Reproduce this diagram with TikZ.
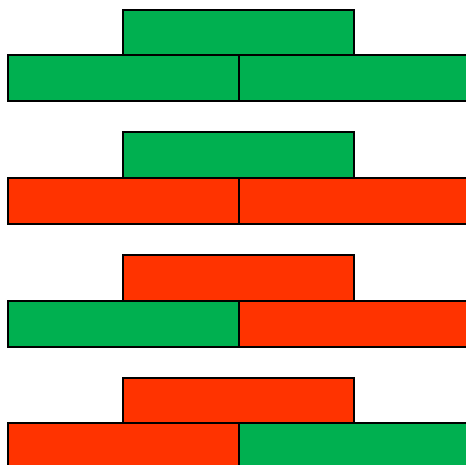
\documentclass[tikz,border=0pt]{standalone}
\definecolor{grn}{HTML}{00B050}
\definecolor{rd}{HTML}{FF3300}
\begin{document}
\begin{tikzpicture}[x=1pt,y=-1pt,
  brick/.style={draw=black,line width=2pt}]
\useasboundingbox (0,0) rectangle (466,465);
\clip (0,0) rectangle (466,465);
\fill[white] (0,0) rectangle (466,465);
\foreach \y/\ct/\cl/\cr in {10/grn/grn/grn, 132.5/grn/rd/rd, 255/rd/grn/rd, 377.5/rd/rd/grn}{
  \begin{scope}[yshift=-\y pt]
    \filldraw[brick,fill=\ct] (123,0) rectangle (354,45.5);
    \filldraw[brick,fill=\cl] (8,45.5) rectangle (239,91.5);
    \filldraw[brick,fill=\cr] (239,45.5) rectangle (472,91.5);
  \end{scope}
}
\end{tikzpicture}
\end{document}
